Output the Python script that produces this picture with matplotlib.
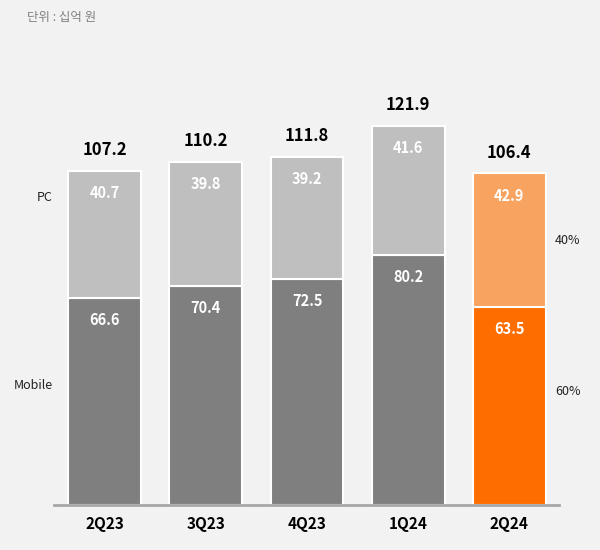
import numpy as np
import matplotlib.pyplot as plt

plt.rcParams['font.family'] = ['Noto Sans CJK KR', 'DejaVu Sans']

quarters = ["2Q23", "3Q23", "4Q23", "1Q24", "2Q24"]
mobile = [66.6, 70.4, 72.5, 80.2, 63.5]
pc = [40.7, 39.8, 39.2, 41.6, 42.9]
totals = [107.2, 110.2, 111.8, 121.9, 106.4]
share_labels = ["40%", "60%"]

bg = "#f2f2f2"
mobile_cols = ["#7f7f7f"] * 4 + ["#fd6d00"]
pc_cols = ["#bfbfbf"] * 4 + ["#f8a360"]

fig = plt.figure(figsize=(6, 5.5), dpi=100, facecolor=bg)
ax = fig.add_axes([0.09, 0.0818, 0.8417, 0.7931], facecolor=bg)

x = np.arange(len(quarters))
w = 0.72
ax.bar(x, mobile, w, color=mobile_cols, edgecolor="white", linewidth=1.5)
ax.bar(x, pc, w, bottom=mobile, color=pc_cols, edgecolor="white", linewidth=1.5)

# values inside segments
for i in range(len(quarters)):
    ax.annotate(f"{mobile[i]:.1f}", (x[i], mobile[i]), xytext=(0, -16),
                textcoords="offset points", ha="center", va="center",
                color="white", fontsize=10.5, fontweight="bold")
    ax.annotate(f"{pc[i]:.1f}", (x[i], mobile[i] + pc[i]), xytext=(0, -16),
                textcoords="offset points", ha="center", va="center",
                color="white", fontsize=10.5, fontweight="bold")
    ax.annotate(f"{totals[i]:.1f}", (x[i], mobile[i] + pc[i]), xytext=(0, 15),
                textcoords="offset points", ha="center", va="center",
                color="black", fontsize=12, fontweight="bold")

ax.set_xlim(-0.5, 4.49)
ax.set_ylim(0, 140)

for s in ["top", "right", "left"]:
    ax.spines[s].set_visible(False)
ax.spines["bottom"].set_color("#a6a6a6")
ax.spines["bottom"].set_linewidth(2)
ax.set_yticks([])
ax.set_xticks(x)
ax.set_xticklabels(quarters, fontsize=11, fontweight="bold")
ax.tick_params(axis="x", length=0, pad=8)

# series names on the left, shares on the right
ax.text(-0.51, 98.8, "PC", ha="right", va="center", fontsize=9, color="#222222")
ax.text(-0.51, 38.3, "Mobile", ha="right", va="center", fontsize=9, color="#222222")
ax.text(4.45, 85, share_labels[0], ha="left", va="center", fontsize=9, color="#222222")
ax.text(4.45, 36.3, share_labels[1], ha="left", va="center", fontsize=9, color="#222222")

fig.text(27 / 600, 1 - 17 / 550, "단위 : 십억 원", ha="left", va="center",
         fontsize=9, color="#808080")

fig.savefig("out.png", dpi=100, facecolor=bg)
